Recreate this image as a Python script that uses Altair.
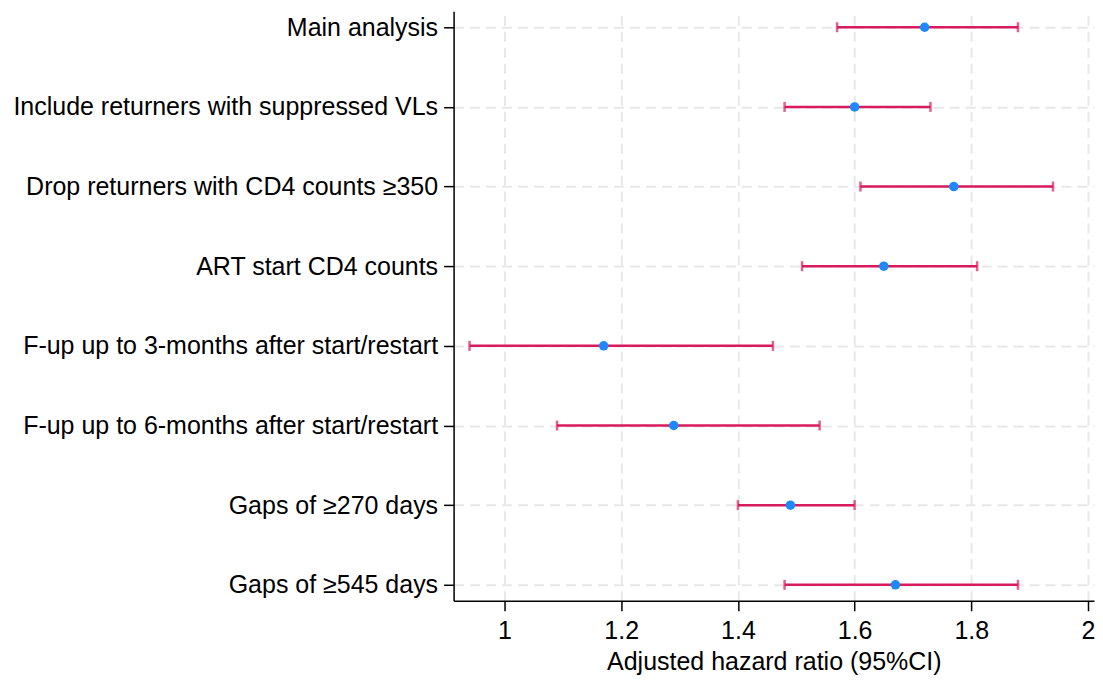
import altair as alt
import pandas as pd

labels = [
    "Main analysis",
    "Include returners with suppressed VLs",
    "Drop returners with CD4 counts \u2265350",
    "ART start CD4 counts",
    "F-up up to 3-months after start/restart",
    "F-up up to 6-months after start/restart",
    "Gaps of \u2265270 days",
    "Gaps of \u2265545 days",
]
hr = [1.72, 1.60, 1.77, 1.65, 1.17, 1.29, 1.49, 1.67]
lo = [1.57, 1.48, 1.61, 1.51, 0.94, 1.09, 1.40, 1.48]
hi = [1.88, 1.73, 1.94, 1.81, 1.46, 1.54, 1.60, 1.88]
x_ticks = [1, 1.2, 1.4, 1.6, 1.8, 2]

df = pd.DataFrame({"label": labels, "hr": hr, "lo": lo, "hi": hi})

FONT = "Liberation Sans"
FS = 25
PINK = "#d81b5c"
BLUE = "#1e88ff"

xscale = alt.Scale(domain=[0.9127, 2.0103], nice=False, zero=False)
yenc = alt.Y(
    "label:N",
    sort=labels,
    scale=alt.Scale(type="point", padding=0.2),
    axis=alt.Axis(
        title=None,
        labelFontSize=FS,
        labelFont=FONT,
        labelColor="black",
        labelPadding=6,
        labelLimit=0,
        tickSize=10,
        tickColor="black",
        tickWidth=1.5,
        domainColor="black",
        domainWidth=1.5,
        grid=True,
        gridColor="#e8e8e8",
        gridWidth=2,
        gridDash=[10, 6],
        minExtent=446,
        maxExtent=446,
    ),
)
xaxis = alt.Axis(
    title="Adjusted hazard ratio (95%CI)",
    titleFont=FONT,
    titleFontSize=FS,
    titleFontWeight="normal",
    titleColor="black",
    titlePadding=6,
    values=x_ticks,
    format="~g",
    labelFontSize=FS,
    labelFont=FONT,
    labelColor="black",
    labelPadding=8,
    tickSize=10,
    tickColor="black",
    tickWidth=1.5,
    domainColor="black",
    domainWidth=1.5,
    grid=True,
    gridColor="#e8e8e8",
    gridWidth=2,
    gridDash=[10, 6],
)

base = alt.Chart(df)

rules = base.mark_rule(color=PINK, strokeWidth=2.5).encode(
    x=alt.X("lo:Q", scale=xscale, axis=xaxis),
    x2="hi:Q",
    y=yenc,
)
caps_lo = base.mark_tick(color=PINK, thickness=2.5, size=10, orient="vertical").encode(
    x=alt.X("lo:Q", scale=xscale), y=alt.Y("label:N", sort=labels)
)
caps_hi = base.mark_tick(color=PINK, thickness=2.5, size=10, orient="vertical").encode(
    x=alt.X("hi:Q", scale=xscale), y=alt.Y("label:N", sort=labels)
)
points = base.mark_circle(color=BLUE, size=90, opacity=1).encode(
    x=alt.X("hr:Q", scale=xscale), y=alt.Y("label:N", sort=labels)
)

chart = (
    alt.layer(rules, caps_lo, caps_hi, points)
    .properties(
        width=641,
        height=590,
        padding={"left": 0, "top": 3, "right": 0, "bottom": 0},
    )
    .configure(background="white", view=alt.ViewConfig(stroke=None))
)

chart.save("out.html", embed_options={"renderer": "svg", "actions": False})
